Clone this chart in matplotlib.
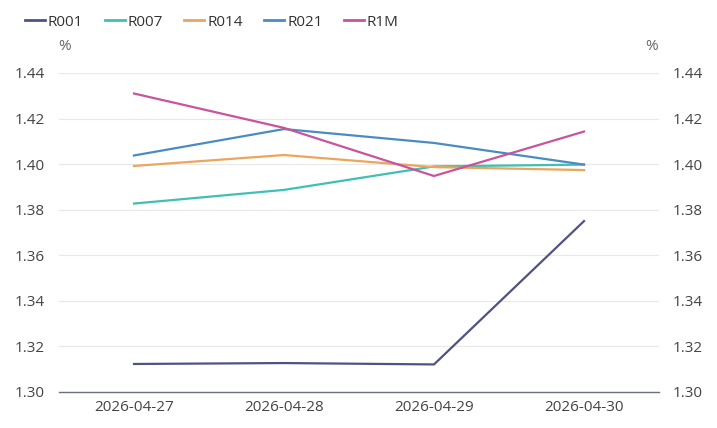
import matplotlib
matplotlib.use("Agg")
import matplotlib.pyplot as plt
from matplotlib.lines import Line2D

plt.rcParams['font.family'] = ['Open Sans', 'DejaVu Sans']

dates = ["2026-04-27", "2026-04-28", "2026-04-29", "2026-04-30"]
r001 = [1.3123, 1.3127, 1.3121, 1.3750]
r007 = [1.3827, 1.3887, 1.3990, 1.3998]
r014 = [1.3992, 1.4040, 1.3987, 1.3974]
r021 = [1.4038, 1.4154, 1.4093, 1.3998]
r1m = [1.4310, 1.4159, 1.3948, 1.4143]
yticks = [1.30, 1.32, 1.34, 1.36, 1.38, 1.40, 1.42, 1.44]

series = [("R001", r001, "#4f5384"), ("R007", r007, "#3fc0b2"),
          ("R014", r014, "#eba65c"), ("R021", r021, "#4a8cc2"),
          ("R1M", r1m, "#c9549c")]

W, H = 717, 428
FS = 11
fig = plt.figure(figsize=(W/100, H/100), dpi=100)
ax = fig.add_axes([59/W, 1-392/H, 600/W, (392-73)/H])
x = list(range(len(dates)))
for name, vals, col in series:
    ax.plot(x, vals, color=col, lw=1.6, solid_joinstyle='round')

ax.set_xlim(-0.5, 3.5)
ax.set_ylim(1.30, 1.44)
ax.set_yticks(yticks)
ax.set_yticklabels([f"{v:.2f}" for v in yticks])
ax.set_xticks(x)
ax.set_xticklabels(dates)
ax.grid(axis='y', color='#e8e8e8', lw=0.8)
ax.set_axisbelow(True)
for s in ['top', 'left', 'right']:
    ax.spines[s].set_visible(False)
ax.spines['bottom'].set_color('#6e7079')
ax.spines['bottom'].set_linewidth(1)
ax.tick_params(axis='both', length=0, labelsize=FS, colors='#444444')
ax.tick_params(axis='x', pad=6)
ax.tick_params(axis='y', pad=10)

ax2 = ax.twinx()
ax2.set_ylim(1.30, 1.44)
ax2.set_yticks(yticks)
ax2.set_yticklabels([f"{v:.2f}" for v in yticks])
for s in ['top', 'left', 'right', 'bottom']:
    ax2.spines[s].set_visible(False)
ax2.tick_params(axis='y', length=0, labelsize=FS, colors='#444444', pad=10)

fig.text(65/W, 1-47/H, "%", fontsize=FS, color='#666666', ha='center', va='center')
fig.text(652/W, 1-47/H, "%", fontsize=FS, color='#666666', ha='center', va='center')

handles = [Line2D([0], [0], color=c, lw=2) for _, _, c in series]
labels = [n for n, _, _ in series]
fig.legend(handles, labels, loc='center left', bbox_to_anchor=(25/W, 1-22/H),
           ncol=5, frameon=False, fontsize=FS, handlelength=1.3,
           handletextpad=0.2, columnspacing=1.4, labelcolor='#333333',
           borderpad=0, borderaxespad=0)

fig.savefig("out.png", dpi=100)
